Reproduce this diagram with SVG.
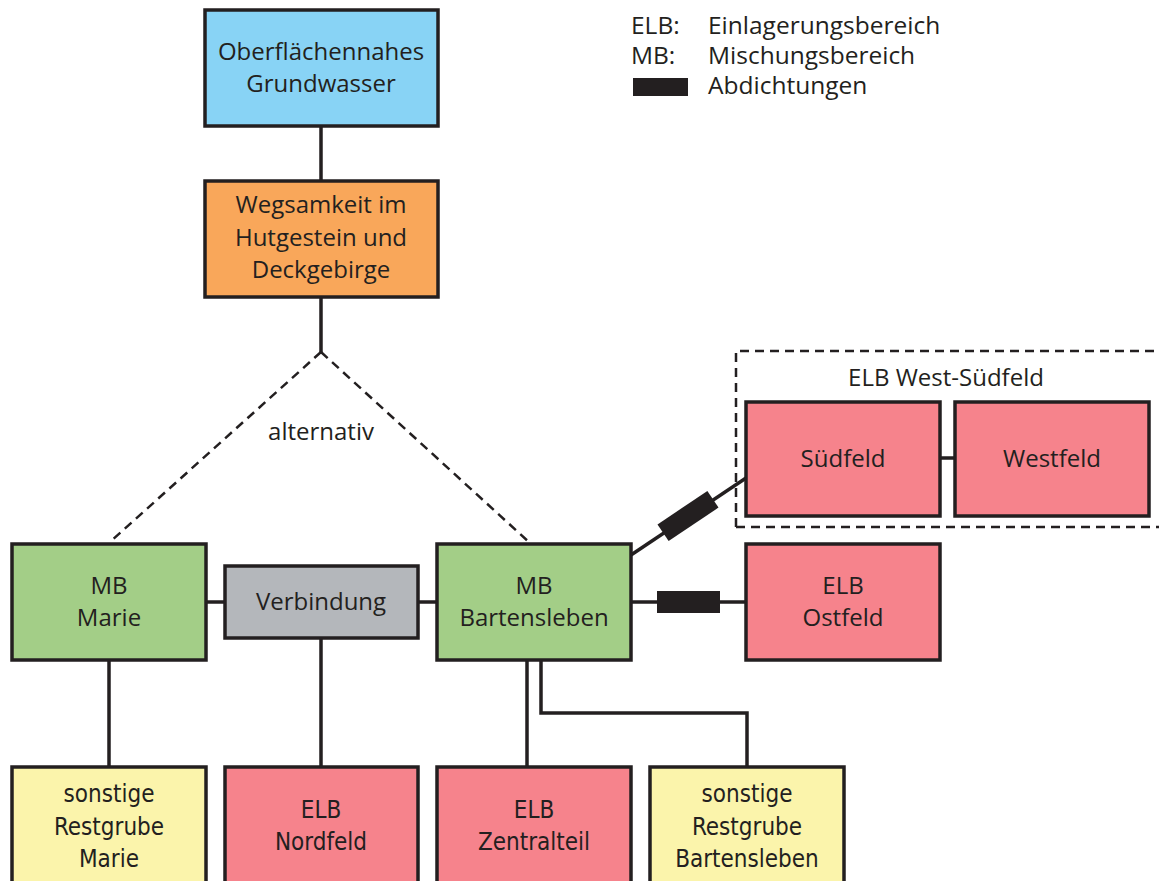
<svg xmlns="http://www.w3.org/2000/svg" width="1159" height="881" viewBox="0 0 1159 881">
<style>
.n{stroke:#231f20;stroke-width:3.5}
.blue{fill:#88d3f5}.orange{fill:#f9a75a}.green{fill:#a3ce87}.grey{fill:#b4b7bb}.red{fill:#f6838c}.yellow{fill:#fbf4ab}
text{font-family:"Open Sans","Noto Sans","Liberation Sans",sans-serif;fill:#231f20;font-size:24px;text-anchor:middle}
.c{font-family:"DejaVu Sans Condensed","Liberation Sans Narrow","Open Sans",sans-serif;font-stretch:condensed;font-size:24px}
.l{text-anchor:start;font-size:24.5px}
.ln{stroke:#231f20;stroke-width:3.5;fill:none}
.dash{stroke:#231f20;stroke-width:2.5;fill:none;stroke-dasharray:9 6}
.seal{fill:#231f20}
</style>
<rect width="1159" height="881" fill="#fff"/>
<g id="legend">
<text class="l" x="631" y="34">ELB:</text><text class="l" x="708" y="34">Einlagerungsbereich</text>
<text class="l" x="631" y="64">MB:</text><text class="l" x="708" y="64">Mischungsbereich</text>
<rect x="633" y="78" width="55" height="18" class="seal"/><text class="l" x="708" y="94">Abdichtungen</text>
</g>
<g id="connectors">
<path class="ln" d="M321 126V181M321 297V352"/>
<path class="dash" d="M321 352L110 542M321 352L530 543"/>
<path class="ln" d="M206 602H225M418 602H437M631 602H746M940 458H955"/>
<path class="ln" d="M631 555L746 478"/>
<rect x="-30" y="-10" width="60" height="20" class="seal" transform="translate(688 516) rotate(-33.8)"/>
<rect x="657" y="591" width="63" height="22" class="seal"/>
<path class="ln" d="M109 660V767M321 638V767M527 660V767M541 660V713H747V767"/>
<path class="dash" d="M736 527V351H1162M736 527H1162"/>
</g>
<g id="oberflaeche"><rect x="205" y="10" width="233" height="116" class="n blue"/><text x="321" y="60">Oberflächennahes</text><text x="321" y="92">Grundwasser</text></g>
<g id="wegsamkeit"><rect x="205" y="181" width="233" height="116" class="n orange"/><text x="321" y="213">Wegsamkeit im</text><text x="321" y="246">Hutgestein und</text><text x="321" y="278">Deckgebirge</text></g>
<g id="alternativ-label"><text x="321" y="440">alternativ</text></g>
<g id="mb-marie"><rect x="12" y="544" width="194" height="116" class="n green"/><text x="109" y="594">MB</text><text x="109" y="626">Marie</text></g>
<g id="verbindung"><rect x="225" y="566" width="193" height="72" class="n grey"/><text x="321" y="610">Verbindung</text></g>
<g id="mb-bartensleben"><rect x="437" y="544" width="194" height="116" class="n green"/><text x="534" y="594">MB</text><text x="534" y="626">Bartensleben</text></g>
<g id="elb-west-suedfeld"><text x="946" y="386">ELB West-Südfeld</text></g>
<g id="suedfeld"><rect x="746" y="402" width="194" height="114" class="n red"/><text x="843" y="467">Südfeld</text></g>
<g id="westfeld"><rect x="955" y="402" width="194" height="114" class="n red"/><text x="1052" y="467">Westfeld</text></g>
<g id="elb-ostfeld"><rect x="746" y="544" width="194" height="116" class="n red"/><text x="843" y="594">ELB</text><text x="843" y="626">Ostfeld</text></g>
<g id="restgrube-marie"><rect x="12" y="767" width="194" height="120" class="n yellow"/><text class="c" x="109" y="802">sonstige</text><text class="c" x="109" y="835">Restgrube</text><text class="c" x="109" y="867">Marie</text></g>
<g id="elb-nordfeld"><rect x="225" y="767" width="193" height="120" class="n red"/><text class="c" x="321" y="818">ELB</text><text class="c" x="321" y="850">Nordfeld</text></g>
<g id="elb-zentralteil"><rect x="437" y="767" width="194" height="120" class="n red"/><text class="c" x="534" y="818">ELB</text><text class="c" x="534" y="850">Zentralteil</text></g>
<g id="restgrube-bartensleben"><rect x="650" y="767" width="194" height="120" class="n yellow"/><text class="c" x="747" y="802">sonstige</text><text class="c" x="747" y="835">Restgrube</text><text class="c" x="747" y="867">Bartensleben</text></g>
</svg>
